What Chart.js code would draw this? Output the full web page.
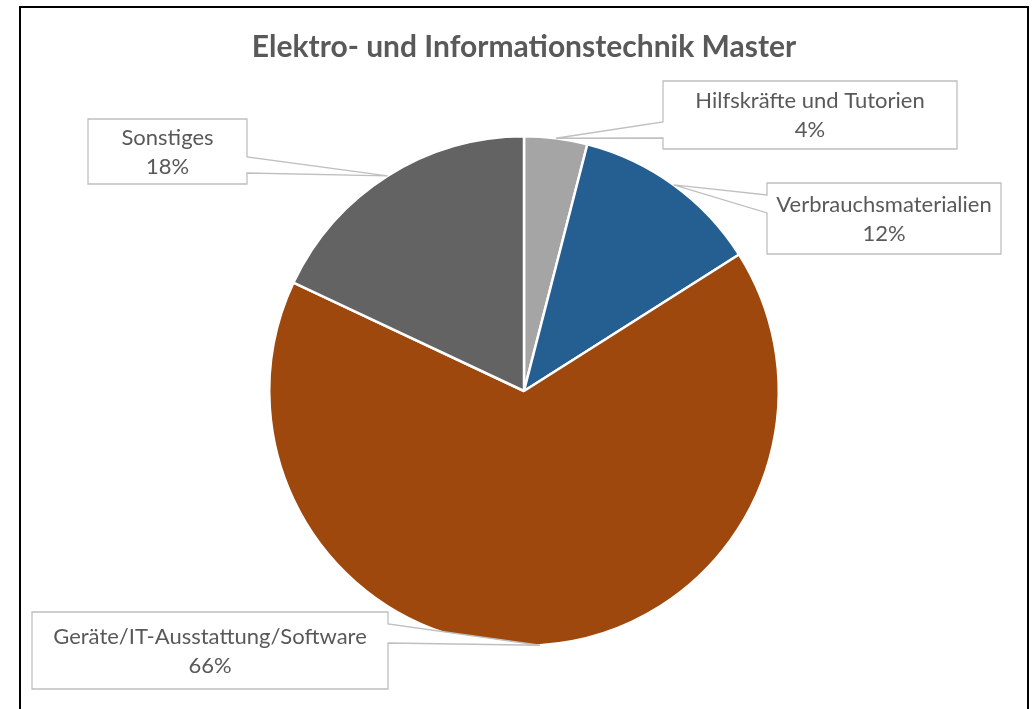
<!DOCTYPE html>
<html>
<head>
<meta charset="utf-8">
<script src="https://cdn.jsdelivr.net/npm/chart.js@4.4.1/dist/chart.umd.min.js"></script>
<style>
  html, body { margin: 0; padding: 0; background: #fff; overflow: hidden; }
  #wrap { position: relative; width: 1034px; height: 709px; }
  #frame { position: absolute; left: 19px; top: 6px; width: 1006px; height: 720px; border: 2px solid #000; pointer-events: none; }
</style>
</head>
<body>
<div id="wrap">
  <canvas id="myChart" width="1034" height="709"></canvas>
  <div id="frame"></div>
</div>
<script>
const categories = ["Hilfskräfte und Tutorien", "Verbrauchsmaterialien", "Geräte/IT-Ausstattung/Software", "Sonstiges"];
const shares = [4, 12, 66, 18];
const sliceColors = ["#a5a5a5", "#255e91", "#9e480e", "#636363"];

// callout boxes (page pixels), wedge base sits on one box side
const callouts = [
  { x: 663, y: 81, w: 294, h: 68, side: "left", a: 122, b: 138 },
  { x: 767, y: 183, w: 234, h: 71, side: "left", a: 195, b: 213 },
  { x: 32, y: 612, w: 356, h: 77, side: "right", a: 624, b: 643 },
  { x: 88, y: 119, w: 159, h: 65, side: "right", a: 157, b: 173 }
];

const calloutPlugin = {
  id: "callouts",
  afterDatasetsDraw(chart) {
    const ctx = chart.ctx;
    const arcs = chart.getDatasetMeta(0).data;
    arcs.forEach((arc, i) => {
      const p = arc.getProps(["x", "y", "startAngle", "endAngle", "outerRadius"], true);
      const mid = (p.startAngle + p.endAngle) / 2;
      const tx = p.x + Math.cos(mid) * p.outerRadius;
      const ty = p.y + Math.sin(mid) * p.outerRadius;
      const c = callouts[i];
      const x0 = c.x, x1 = c.x + c.w, y0 = c.y, y1 = c.y + c.h;

      ctx.save();
      ctx.beginPath();
      if (c.side === "left") {
        ctx.moveTo(x0, y0);
        ctx.lineTo(x1, y0);
        ctx.lineTo(x1, y1);
        ctx.lineTo(x0, y1);
        ctx.lineTo(x0, c.b);
        ctx.lineTo(tx, ty);
        ctx.lineTo(x0, c.a);
      } else {
        ctx.moveTo(x0, y0);
        ctx.lineTo(x1, y0);
        ctx.lineTo(x1, c.a);
        ctx.lineTo(tx, ty);
        ctx.lineTo(x1, c.b);
        ctx.lineTo(x1, y1);
        ctx.lineTo(x0, y1);
      }
      ctx.closePath();
      ctx.fillStyle = "#ffffff";
      ctx.fill();
      ctx.strokeStyle = "#bfbfbf";
      ctx.lineWidth = 1.3;
      ctx.stroke();

      const cx = x0 + c.w / 2;
      const cy = y0 + c.h / 2;
      ctx.fillStyle = "#595959";
      ctx.font = "22px Lato";
      ctx.textAlign = "center";
      ctx.textBaseline = "middle";
      ctx.fillText(categories[i], cx, cy - 14);
      ctx.fillText(shares[i] + "%", cx, cy + 15);
      ctx.restore();
    });
  }
};

const chartPlace = document.getElementById("myChart");
const myChart = new Chart(chartPlace, {
  type: "pie",
  data: {
    labels: categories,
    datasets: [{
      data: shares,
      backgroundColor: sliceColors,
      borderColor: "#ffffff",
      borderWidth: 2.5
    }]
  },
  options: {
    responsive: false,
    animation: false,
    layout: {
      padding: { top: 0, bottom: 62, left: 14, right: 0 }
    },
    plugins: {
      legend: { display: false },
      tooltip: { enabled: false },
      title: {
        display: true,
        text: "Elektro- und Informationstechnik Master",
        color: "#595959",
        font: { family: "Lato", size: 30, weight: "bold" },
        padding: { top: 29, bottom: 70 }
      }
    }
  },
  plugins: [calloutPlugin]
});
</script>
</body>
</html>
